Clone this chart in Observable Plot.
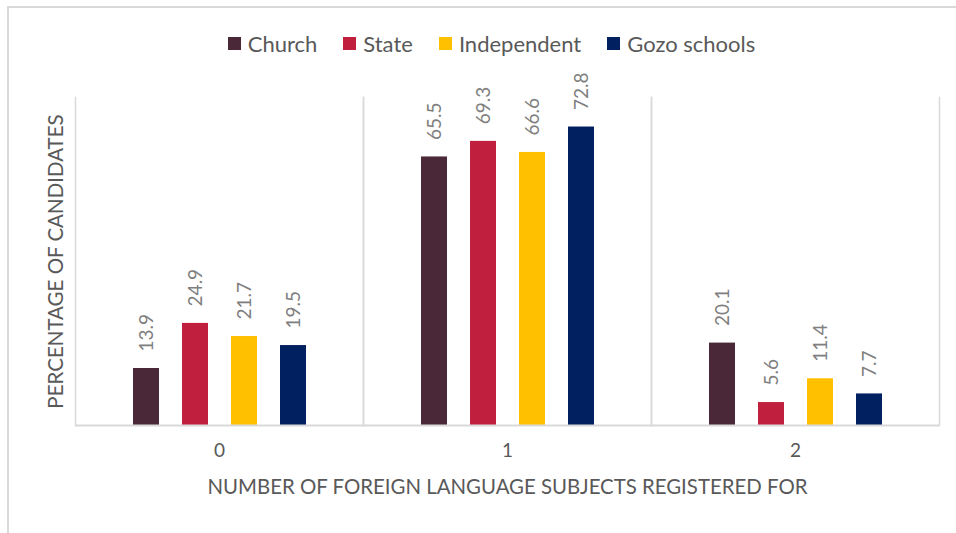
<!DOCTYPE html>
<html>
<head>
<meta charset="utf-8">
<script src="https://cdn.jsdelivr.net/npm/d3@7"></script>
<script src="https://cdn.jsdelivr.net/npm/@observablehq/plot@0.6"></script>
<style>
  html, body { margin: 0; padding: 0; background: #fff; }
  #wrap { position: relative; width: 956px; height: 533px; overflow: hidden; font-family: Lato, "Open Sans", sans-serif; }
  #border { position: absolute; left: 7px; top: 6px; right: -2px; bottom: -2px; border-left: 2px solid #d9d9d9; border-top: 2px solid #d9d9d9; }
  #legend { position: absolute; left: 0; top: 0; width: 956px; height: 80px; display: flex; justify-content: center; align-items: center; padding-top: 6px; box-sizing: border-box; gap: 26px; padding-left: 27px; z-index: 2; }
  .item { display: flex; align-items: center; font-size: 22px; color: #595959; }
  .sw { width: 13px; height: 13px; margin-right: 7px; }
  #chart { position: absolute; left: 0; top: 50px; z-index: 1; }
</style>
</head>
<body>
<div id="wrap">
  <div id="border"></div>
  <div id="chart"></div>
  <div id="legend"></div>
</div>
<script>
const groups = ["0", "1", "2"];
const series = ["Church", "State", "Independent", "Gozo schools"];
const church = [13.9, 65.5, 20.1];
const state = [24.9, 69.3, 5.6];
const independent = [21.7, 66.6, 11.4];
const gozo = [19.5, 72.8, 7.7];
const colors = ["#4A2838", "#C0203E", "#FFC000", "#002060"];
const xTitle = "NUMBER OF FOREIGN LANGUAGE SUBJECTS REGISTERED FOR";
const yTitle = "PERCENTAGE OF CANDIDATES";

const valuesBySeries = [church, state, independent, gozo];
const table = [];
groups.forEach((g, gi) => {
  series.forEach((s, si) => {
    table.push({group: g, series: s, value: valuesBySeries[si][gi]});
  });
});

// legend
const legend = document.getElementById("legend");
series.forEach((s, i) => {
  const item = document.createElement("div");
  item.className = "item";
  const sw = document.createElement("span");
  sw.className = "sw";
  sw.style.background = colors[i];
  const lab = document.createElement("span");
  lab.textContent = s;
  item.appendChild(sw);
  item.appendChild(lab);
  legend.appendChild(item);
});

const grid = "#d9d9d9";
const chart = Plot.plot({
  width: 956,
  height: 483,
  marginTop: 47,
  marginBottom: 108,
  marginLeft: 74,
  marginRight: 17,
  style: {fontFamily: "Lato, 'Open Sans', sans-serif", background: "transparent", color: "#595959"},
  fx: {domain: groups, padding: 0, label: null},
  x: {domain: series, paddingInner: 0.47, paddingOuter: 1.16, axis: null},
  y: {domain: [0, 80], axis: null},
  color: {domain: series, range: colors},
  marks: [
    Plot.frame({anchor: "left", stroke: grid, strokeWidth: 1.5}),
    Plot.frame({anchor: "right", stroke: grid, strokeWidth: 1.5}),
    Plot.barY(table, {fx: "group", x: "series", y: "value", fill: "series"}),
    Plot.ruleY([0], {stroke: grid, strokeWidth: 2}),
    Plot.text(table, {fx: "group", x: "series", y: "value", text: d => d.value.toFixed(1), rotate: -90, textAnchor: "start", dy: -17, fill: "#7f7f7f", fontSize: 19}),
    Plot.axisFx({anchor: "bottom", tickSize: 0, tickPadding: 18, fontSize: 19, color: "#595959"}),
    Plot.axisFx({anchor: "bottom", tickSize: 0, ticks: [], label: xTitle, labelAnchor: "center", labelOffset: 68, labelArrow: "none", fontSize: 20.4, color: "#595959"}),
    Plot.axisY({ticks: [], tickSize: 0, label: yTitle, labelAnchor: "center", labelOffset: 27, labelArrow: "none", fontSize: 20.5, color: "#595959"})
  ]
});
document.getElementById("chart").appendChild(chart);
</script>
</body>
</html>
